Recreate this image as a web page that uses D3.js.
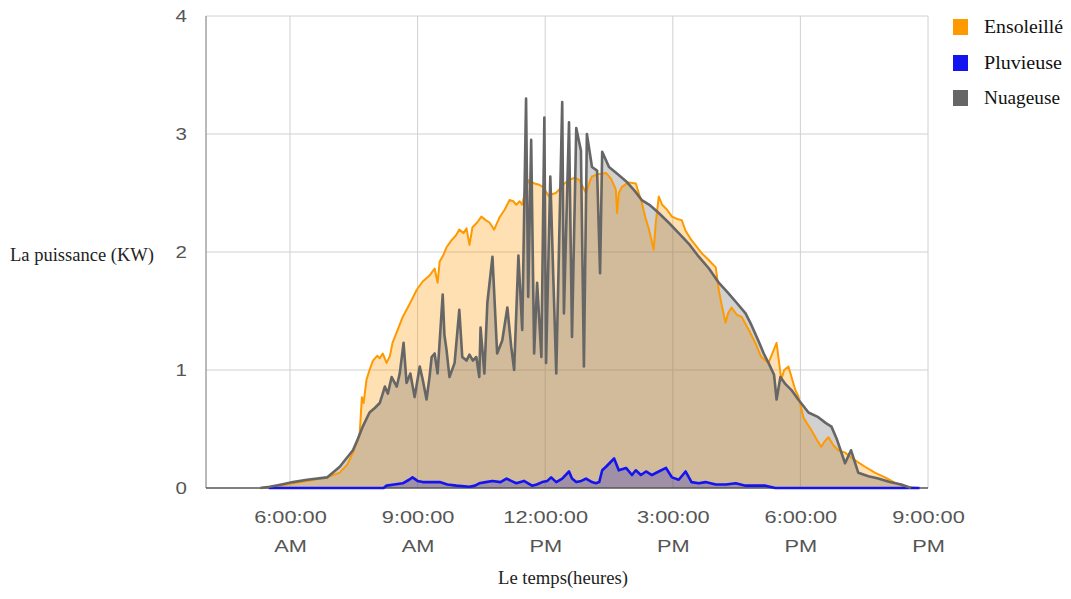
<!DOCTYPE html>
<html><head><meta charset="utf-8">
<script src="https://cdn.jsdelivr.net/npm/d3@7"></script>
<style>body{margin:0;background:#fff}svg{display:block}</style>
</head><body><svg id="c" width="1071" height="599"></svg>
<script>
// ---- data (hours of day, kW) ----
const seriesNames = ["Ensoleillé", "Pluvieuse", "Nuageuse"];
const seriesColors = ["#ff9900", "#1414f0", "#666666"];

const ensoleilleHours = [5.30,5.53,5.80,6.07,6.40,6.87,7.17,7.35,7.48,7.59,7.64,7.69,7.73,7.80,7.87,7.95,8.05,8.11,8.18,8.27,8.35,8.41,8.52,8.65,8.80,8.98,9.12,9.28,9.40,9.47,9.52,9.60,9.68,9.80,9.90,9.98,10.08,10.15,10.22,10.29,10.40,10.50,10.60,10.69,10.80,10.92,11.05,11.16,11.25,11.32,11.40,11.46,11.55,11.62,11.75,11.86,11.95,12.09,12.16,12.25,12.33,12.45,12.56,12.70,12.80,12.96,13.05,13.10,13.25,13.43,13.55,13.66,13.69,13.73,13.80,13.95,14.13,14.20,14.27,14.35,14.44,14.50,14.55,14.60,14.67,14.75,14.86,14.98,15.10,15.21,15.30,15.44,15.55,15.68,15.85,16.01,16.08,16.15,16.24,16.30,16.38,16.50,16.62,16.80,16.94,17.08,17.25,17.35,17.44,17.55,17.62,17.72,17.80,17.88,17.95,18.07,18.15,18.26,18.40,18.49,18.58,18.66,18.78,18.89,19.05,19.19,19.35,19.52,19.75,19.99,20.25,20.46,20.77];
const ensoleilleKW = [0,0.01,0.02,0.04,0.06,0.09,0.13,0.20,0.30,0.40,0.47,0.77,0.72,0.92,1.00,1.08,1.12,1.10,1.14,1.06,1.12,1.23,1.33,1.45,1.55,1.68,1.75,1.80,1.86,1.74,1.92,1.97,2.04,2.10,2.14,2.19,2.16,2.20,2.06,2.21,2.25,2.30,2.27,2.25,2.19,2.29,2.36,2.44,2.43,2.40,2.43,2.40,2.55,2.61,2.58,2.57,2.55,2.47,2.49,2.50,2.53,2.58,2.61,2.63,2.61,2.50,2.60,2.64,2.66,2.67,2.62,2.53,2.33,2.50,2.55,2.59,2.58,2.50,2.42,2.30,2.19,2.10,2.02,2.25,2.47,2.40,2.36,2.30,2.28,2.27,2.18,2.10,2.05,1.99,1.93,1.87,1.68,1.55,1.40,1.48,1.53,1.47,1.45,1.33,1.23,1.11,1.06,1.15,1.23,0.92,1.00,1.03,0.93,0.83,0.78,0.60,0.55,0.49,0.40,0.35,0.40,0.43,0.36,0.32,0.30,0.26,0.22,0.18,0.13,0.09,0.04,0.01,0];

const pluvieuseHours = [5.50,8.20,8.27,8.45,8.65,8.80,8.88,9.00,9.12,9.30,9.52,9.70,9.91,10.22,10.35,10.45,10.60,10.76,10.95,11.09,11.20,11.32,11.50,11.69,11.80,11.93,12.05,12.14,12.26,12.40,12.56,12.63,12.73,12.85,12.96,13.10,13.19,13.27,13.34,13.43,13.62,13.73,13.90,14.04,14.13,14.25,14.37,14.51,14.67,14.84,14.98,15.14,15.30,15.44,15.61,15.77,16.01,16.25,16.48,16.71,17.18,17.41,20.80];
const pluvieuseKW = [0,0,0.02,0.03,0.04,0.07,0.09,0.06,0.05,0.05,0.05,0.03,0.02,0.01,0.02,0.04,0.05,0.06,0.05,0.08,0.06,0.04,0.06,0.02,0.03,0.05,0.06,0.09,0.05,0.08,0.14,0.08,0.05,0.06,0.08,0.05,0.04,0.05,0.15,0.18,0.25,0.15,0.17,0.11,0.15,0.11,0.14,0.11,0.14,0.17,0.09,0.07,0.14,0.05,0.04,0.05,0.03,0.03,0.04,0.02,0.02,0,0];

const nuageuseHours = [5.30,5.53,5.80,6.07,6.40,6.87,7.17,7.30,7.48,7.60,7.71,7.87,8.00,8.11,8.18,8.23,8.30,8.39,8.45,8.51,8.58,8.67,8.74,8.83,8.93,9.05,9.12,9.21,9.28,9.33,9.40,9.47,9.59,9.63,9.68,9.75,9.87,9.98,10.05,10.15,10.22,10.30,10.38,10.45,10.48,10.57,10.64,10.76,10.87,10.99,11.11,11.20,11.27,11.37,11.46,11.55,11.60,11.67,11.74,11.81,11.91,11.98,12.02,12.12,12.19,12.26,12.40,12.44,12.56,12.63,12.73,12.84,12.91,12.98,13.10,13.22,13.29,13.34,13.50,13.70,13.90,14.10,14.27,14.45,14.67,14.90,15.14,15.40,15.61,15.85,16.08,16.31,16.50,16.71,16.85,17.01,17.15,17.25,17.38,17.44,17.53,17.65,17.79,17.95,18.19,18.42,18.60,18.73,18.85,19.05,19.19,19.36,19.60,19.83,20.10,20.37,20.60];
const nuageuseKW = [0,0.01,0.03,0.05,0.07,0.09,0.18,0.24,0.32,0.42,0.52,0.64,0.68,0.72,0.80,0.86,0.80,0.94,0.90,0.86,0.97,1.23,0.89,0.97,0.77,1.03,0.92,0.75,0.94,1.11,1.14,0.97,1.64,1.30,1.17,0.94,1.06,1.51,1.11,1.08,1.13,1.08,1.11,0.94,1.36,0.97,1.57,1.96,1.14,1.25,1.53,1.20,1.00,1.97,1.34,3.30,1.62,2.95,1.14,1.74,1.11,3.14,1.06,2.64,1.79,0.97,3.27,1.48,3.10,1.28,3.05,2.86,1.03,3.00,2.72,2.69,1.82,2.85,2.72,2.66,2.60,2.52,2.44,2.40,2.33,2.25,2.16,2.06,1.96,1.86,1.74,1.65,1.57,1.48,1.38,1.25,1.13,1.06,0.96,0.75,0.94,0.88,0.83,0.75,0.64,0.60,0.55,0.52,0.42,0.21,0.32,0.13,0.10,0.08,0.05,0.03,0];

const xTickHours = [6, 9, 12, 15, 18, 21];
const xTickTimes = ["6:00:00", "9:00:00", "12:00:00", "3:00:00", "6:00:00", "9:00:00"];
const xTickPeriods = ["AM", "AM", "PM", "PM", "PM", "PM"];
const yTicks = [0, 1, 2, 3, 4];
const yTitle = "La puissance (KW)";
const xTitle = "Le temps(heures)";

// ---- layout ----
const L = 206, R = 928, T = 16, B = 488;
const STRETCH = 1.28;
const svg = d3.select("#c");
const x = d3.scaleLinear().domain([4.025, 21]).range([L, R]);
const y = d3.scaleLinear().domain([0, 4]).range([B, T]);

function stretch(sel) {
  sel.each(function () {
    const len = this.getComputedTextLength();
    if (len > 0) {
      this.setAttribute("textLength", len * STRETCH);
      this.setAttribute("lengthAdjust", "spacingAndGlyphs");
    }
  });
}
function fitWidth(sel, w) {
  sel.attr("textLength", w).attr("lengthAdjust", "spacingAndGlyphs");
}

// gridlines
const grid = svg.append("g");
grid.selectAll("line.h").data(yTicks.filter(d => d > 0)).join("line")
  .attr("x1", L).attr("x2", R).attr("y1", d => y(d)).attr("y2", d => y(d))
  .attr("stroke", "#d0d0d0").attr("stroke-width", 1);
grid.selectAll("line.v").data(xTickHours).join("line")
  .attr("x1", d => x(d)).attr("x2", d => x(d)).attr("y1", T).attr("y2", B)
  .attr("stroke", "#d0d0d0").attr("stroke-width", 1);

// series
const series = [
  ensoleilleHours.map((h, i) => [h, ensoleilleKW[i]]),
  pluvieuseHours.map((h, i) => [h, pluvieuseKW[i]]),
  nuageuseHours.map((h, i) => [h, nuageuseKW[i]])
];
const area = d3.area().x(d => x(d[0])).y0(y(0)).y1(d => y(d[1]));
const line = d3.line().x(d => x(d[0])).y(d => y(d[1]));

svg.append("g").selectAll("path").data(series).join("path")
  .attr("d", area).attr("fill", (d, i) => seriesColors[i]).attr("fill-opacity", 0.3);

// axes lines
svg.append("line").attr("x1", L).attr("x2", L).attr("y1", T).attr("y2", B)
  .attr("stroke", "#8a8a8a").attr("stroke-width", 1.2);
svg.append("line").attr("x1", L).attr("x2", R).attr("y1", B).attr("y2", B)
  .attr("stroke", "#555").attr("stroke-width", 1.5);

const widths = [2, 2.6, 2.6];
svg.append("g").selectAll("path").data(series).join("path")
  .attr("d", line).attr("fill", "none")
  .attr("stroke", (d, i) => seriesColors[i])
  .attr("stroke-width", (d, i) => widths[i])
  .attr("stroke-linejoin", "round");

// y axis labels
const yAxis = svg.append("g").attr("transform", `translate(${L - 19},0)`)
  .call(d3.axisLeft(y).tickValues(yTicks).tickSize(0).tickPadding(0).tickFormat(d3.format("d")));
yAxis.select(".domain").remove();
yAxis.selectAll("text").attr("font-family", "Liberation Sans, Arial, sans-serif")
  .attr("font-size", 16).attr("fill", "#555").call(stretch);

// x axis labels
const xAxis = svg.append("g").attr("transform", `translate(0,${B})`)
  .call(d3.axisBottom(x).tickValues(xTickHours).tickSize(0).tickFormat(""));
xAxis.select(".domain").remove();
xAxis.selectAll(".tick").each(function (d, i) {
  const g = d3.select(this);
  g.selectAll("text").remove();
  [[xTickTimes[i], 35], [xTickPeriods[i], 64]].forEach(([s, dy]) => {
    g.append("text").attr("y", dy).attr("text-anchor", "middle")
      .attr("font-family", "Liberation Sans, Arial, sans-serif")
      .attr("font-size", 17).attr("fill", "#555").text(s).call(stretch);
  });
});

// titles (compressed serif, as in the reference)
svg.append("text").attr("x", 10).attr("y", 261)
  .attr("font-family", "Liberation Serif, Times New Roman, serif")
  .attr("font-size", 18).attr("fill", "#222").text(yTitle).call(fitWidth, 144);
svg.append("text").attr("x", 563).attr("y", 584).attr("text-anchor", "middle")
  .attr("font-family", "Liberation Serif, Times New Roman, serif")
  .attr("font-size", 18).attr("fill", "#222").text(xTitle).call(fitWidth, 130);

// legend
const legendY = [27, 63, 98];
const legendW = [79, 78, 76];
const lg = svg.append("g").selectAll("g").data(seriesNames).join("g")
  .attr("transform", (d, i) => `translate(953,${legendY[i]})`);
lg.append("rect").attr("x", 0).attr("y", -8).attr("width", 15).attr("height", 16)
  .attr("fill", (d, i) => seriesColors[i]);
lg.append("text").attr("x", 31).attr("y", 6)
  .attr("font-family", "Liberation Serif, Times New Roman, serif")
  .attr("font-size", 18).attr("fill", "#111").text(d => d)
  .attr("textLength", (d, i) => legendW[i]).attr("lengthAdjust", "spacingAndGlyphs");
</script>
</body></html>
